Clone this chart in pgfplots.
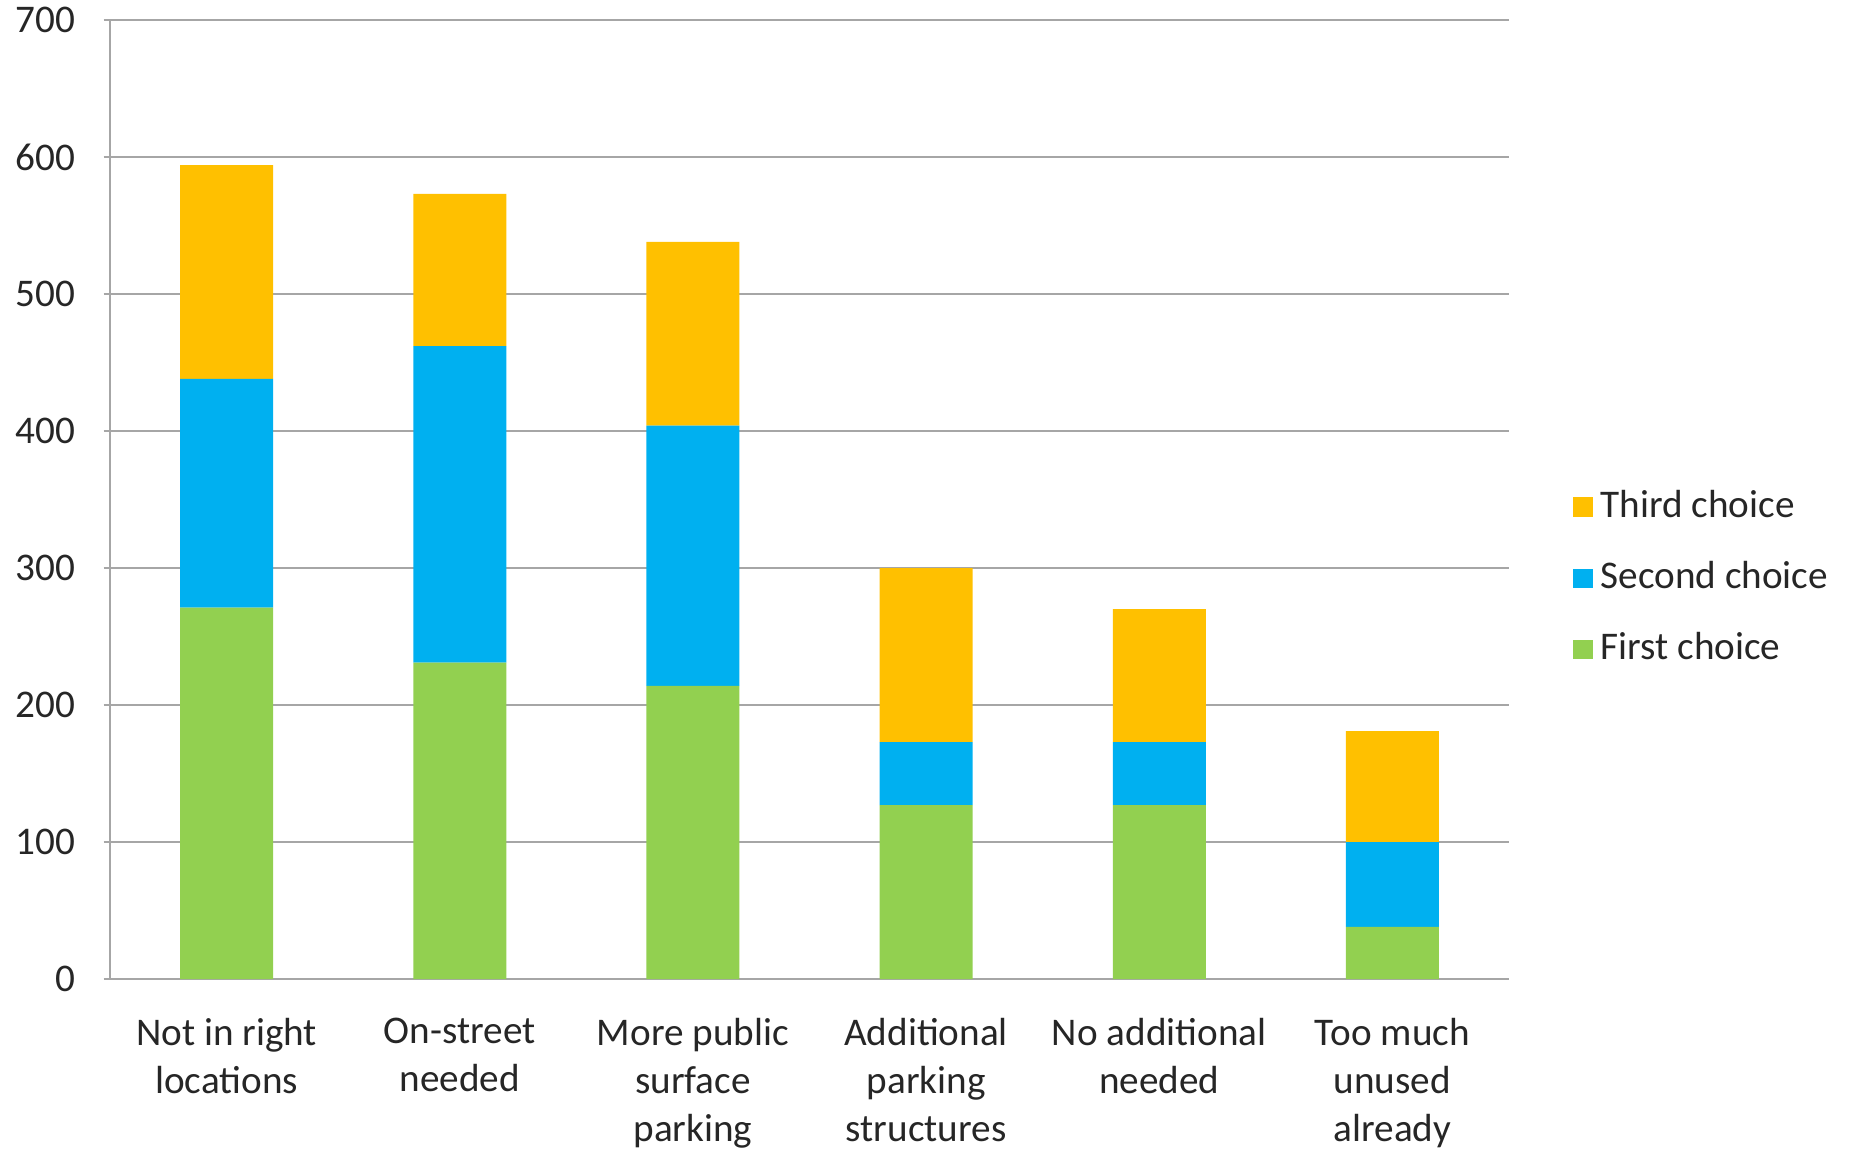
\documentclass[border=0pt]{standalone}
\usepackage{pgfplots}
\pgfplotsset{compat=1.18}
\usepackage{fontspec}
\setmainfont{Carlito}
\definecolor{cgreen}{HTML}{92D050}
\definecolor{cblue}{HTML}{00B0F0}
\definecolor{corange}{HTML}{FFC000}
\definecolor{cgrid}{HTML}{A6A6A6}
\definecolor{ctext}{HTML}{262626}
\begin{document}
\begin{tikzpicture}
\useasboundingbox (-27.5pt,-42.5pt) rectangle (434.75pt,244.75pt);
\begin{axis}[
  at={(0,0)}, anchor=south west,
  width=349.75pt, height=239.75pt, scale only axis,
  ybar stacked, bar width=23.25pt,
  xmin=-0.5, xmax=5.5, ymin=0, ymax=700,
  ytick={0,100,...,700},
  xtick={0,1,2,3,4,5},
  xticklabels={Not in right\\locations, On-street\\needed, More public\\surface\\parking, Additional\\parking\\structures, No additional\\needed, Too much\\unused\\already},
  xticklabel style={align=center, font=\fontsize{9.8}{12}\selectfont, text=ctext, yshift=-4.6pt},
  yticklabel style={font=\fontsize{9.8}{12}\selectfont, text=ctext, xshift=-3.6pt},
  /pgf/number format/assume math mode=true,
  major x tick style={draw=none},
  extra x ticks={-0.5,0.5,1.5,2.5,3.5,4.5,5.5},
  extra x tick labels={},
  extra x tick style={major tick length=3pt, tick style={draw=cgrid, line width=0.5pt}, grid=none},
  tick align=outside,
  major tick length=3.2pt,
  y tick style={draw=cgrid, line width=0.5pt},
  ymajorgrids, grid style={draw=cgrid, line width=0.5pt},
  axis x line=bottom, axis y line=left,
  axis line style={draw=cgrid, line width=0.5pt, -},
  reverse legend,
  legend style={draw=none, fill=none, at={(1.046,0.418)}, anchor=west,
    font=\fontsize{9.8}{12}\selectfont, text=ctext, row sep=5.5pt,
    inner sep=0pt, outer sep=0pt},
  legend cell align=left,
  legend image code/.code={\fill[#1,draw=none] (0pt,-2.4pt) rectangle (4.8pt,2.4pt);},
  clip=false,
]
\addplot[fill=cgreen, draw=none] coordinates {(0,271) (1,231) (2,214) (3,127) (4,127) (5,38)};
\addplot[fill=cblue, draw=none] coordinates {(0,167) (1,231) (2,190) (3,46) (4,46) (5,62)};
\addplot[fill=corange, draw=none] coordinates {(0,156) (1,111) (2,134) (3,127) (4,97) (5,81)};
\legend{First choice, Second choice, Third choice}
\end{axis}
\end{tikzpicture}
\end{document}
